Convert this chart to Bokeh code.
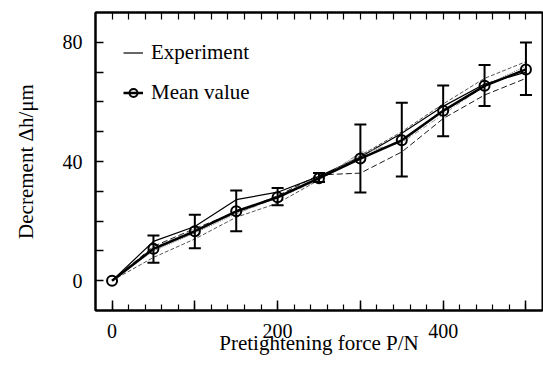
from bokeh.plotting import figure
from bokeh.models import (ColumnDataSource, Whisker, TeeHead, FixedTicker, LinearAxis,
                          Legend, LegendItem, Range1d, CustomLabelingPolicy,
                          CustomJSTickFormatter)
from bokeh.embed import file_html
from bokeh.resources import INLINE

# ---- data ----
force = [0, 50, 100, 150, 200, 250, 300, 350, 400, 450, 500]
exp_1 = [0, 13.2, 18.2, 27.2, 29.7, 35.0, 41.5, 49.5, 58.5, 66.0, 70.0]
exp_2 = [0, 7.8, 14.0, 21.3, 26.0, 33.8, 42.0, 50.0, 59.3, 67.9, 73.5]
exp_3 = [0, 11.5, 17.5, 23.0, 28.5, 35.5, 36.1, 43.2, 54.4, 62.3, 67.9]
exp_4 = [0, 10.0, 16.0, 22.5, 28.0, 34.0, 42.5, 46.5, 57.0, 65.5, 72.0]
exp_5 = [0, 11.0, 17.3, 22.5, 27.8, 33.7, 43.0, 46.3, 55.8, 65.3, 71.1]
mean_value = [0, 10.7, 16.6, 23.3, 28.0, 34.4, 41.0, 47.1, 57.0, 65.4, 70.9]
err_upper = [0, 15.2, 22.1, 30.3, 31.1, 36.1, 52.4, 59.7, 65.5, 72.4, 79.9]
err_lower = [0, 6.0, 10.9, 16.6, 25.3, 33.1, 29.6, 35.0, 48.5, 58.6, 62.3]

x_ticks = [0, 100, 200, 300, 400, 500]
x_unlabeled = [1, 3, 5]          # indices of x ticks drawn without a label
x_minor = list(range(0, 520, 20))
y_ticks = [0, 40, 80]
y_minor = [10, 20, 30, 50, 60, 70]

x_title = "Pretightening force P/N"
y_title = "Decrement \u0394h/\u03bcm"

FONT = "Liberation Serif"

p = figure(width=543, height=366, output_backend="svg", toolbar_location=None,
           x_range=Range1d(-20, 520), y_range=Range1d(-10, 90),
           min_border_left=95, min_border_right=1, min_border_top=12, min_border_bottom=56)
p.grid.visible = False
p.outline_line_color = "black"
p.outline_line_width = 2
p.background_fill_color = "white"
p.border_fill_color = "white"

hide_some = CustomLabelingPolicy(args=dict(hide=x_unlabeled), code="""
for (let i = 0; i < indices.size; i++) { if (hide.includes(i)) indices.unset(i) }
return indices
""")

# bottom axis
xa = p.xaxis[0]
xa.ticker = FixedTicker(ticks=x_ticks, minor_ticks=x_minor)
xa.major_label_policy = hide_some
xa.major_tick_in = 10
xa.major_tick_out = 0
xa.minor_tick_in = 6
xa.minor_tick_out = 0
xa.axis_line_width = 2
xa.major_tick_line_width = 1.5
xa.minor_tick_line_width = 1.2
xa.major_label_text_font = FONT
xa.major_label_text_font_size = "20px"
xa.major_label_text_color = "black"
xa.major_label_standoff = 13
xa.axis_label = x_title
xa.axis_label_text_font = FONT
xa.axis_label_text_font_size = "21px"
xa.axis_label_text_font_style = "normal"
xa.axis_label_text_color = "black"
xa.axis_label_standoff = -10

# left axis
ya = p.yaxis[0]
ya.ticker = FixedTicker(ticks=y_ticks, minor_ticks=y_minor)
ya.major_tick_in = 8
ya.major_tick_out = 0
ya.minor_tick_in = 8
ya.minor_tick_out = 0
ya.axis_line_width = 2
ya.major_tick_line_width = 1.5
ya.minor_tick_line_width = 1.5
ya.major_label_text_font = FONT
ya.major_label_text_font_size = "20px"
ya.major_label_text_color = "black"
ya.major_label_standoff = 13
ya.axis_label = y_title
ya.axis_label_text_font = FONT
ya.axis_label_text_font_size = "21px"
ya.axis_label_text_font_style = "normal"
ya.axis_label_text_color = "black"
ya.axis_label_standoff = 22

# top mirror axis (ticks only)
top = LinearAxis(ticker=FixedTicker(ticks=x_minor, minor_ticks=[]),
                 formatter=CustomJSTickFormatter(code="return ''"),
                 major_tick_in=7, major_tick_out=0, axis_line_width=2,
                 major_tick_line_width=1.2, major_label_text_font_size="1px",
                 major_label_policy=CustomLabelingPolicy(code="""
for (let i = 0; i < indices.size; i++) { indices.unset(i) }
return indices
"""),
                 axis_label_standoff=0, major_label_standoff=0,
                 minor_tick_in=0, minor_tick_out=0)
p.add_layout(top, "above")

# experiment curves
r1 = p.line(force, exp_1, line_color="black", line_width=1.2)
p.line(force, exp_2, line_color="#555555", line_width=1, line_dash="4 2")
p.line(force, exp_3, line_color="black", line_width=0.9, line_dash="6 3")
p.line(force, exp_4, line_color="#777777", line_width=1, line_dash="1 1")
p.line(force, exp_5, line_color="#999999", line_width=1, line_dash="5 2 1 2")

# mean value with error bars
err_src = ColumnDataSource(dict(x=force[1:], upper=err_upper[1:], lower=err_lower[1:]))
wh = Whisker(source=err_src, base="x", upper="upper", lower="lower",
             line_color="black", line_width=2,
             upper_head=TeeHead(size=12, line_width=2, line_color="black"),
             lower_head=TeeHead(size=12, line_width=2, line_color="black"))
wh.level = "glyph"
p.add_layout(wh)
rm = p.line(force, mean_value, line_color="black", line_width=2.5)
rc = p.scatter(force, mean_value, marker="circle", size=10, line_color="black",
               line_width=2, fill_alpha=0)

legend = Legend(items=[LegendItem(label="Experiment", renderers=[r1]),
                       LegendItem(label="Mean value", renderers=[rm, rc])],
                location="top_left", margin=28, padding=0, spacing=15,
                glyph_width=20, glyph_height=25, label_height=25, label_standoff=8,
                label_text_font=FONT, label_text_font_size="21px",
                label_text_color="black",
                border_line_color=None, background_fill_alpha=0)
p.add_layout(legend)

open("out.html", "w").write(file_html(p, INLINE))
